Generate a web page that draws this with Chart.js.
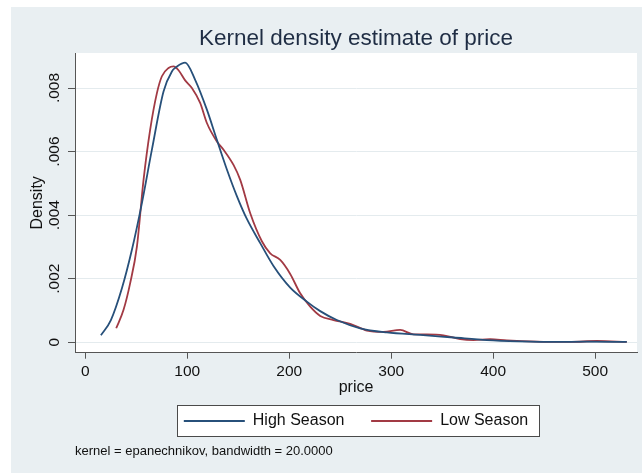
<!DOCTYPE html>
<html>
<head>
<meta charset="utf-8">
<script src="https://cdn.jsdelivr.net/npm/chart.js@4.4.1/dist/chart.umd.min.js"></script>
<style>
  html, body { margin: 0; padding: 0; background: #ffffff; }
  #wrap { position: relative; width: 642px; height: 473px; }
  canvas { display: block; }
</style>
</head>
<body>
<div id="wrap"><canvas id="kde" width="642" height="473"></canvas></div>
<script>
// Kernel density of price, by season
const highPrice = [15.4, 25.2, 36.0, 45.8, 55.6, 65.4, 76.8, 85.0, 90.0, 98.0, 107.8, 119.3, 129.1, 139.0, 148.7, 158.5, 171.6, 184.6, 201.0, 217.3, 230.4, 246.7, 269.6, 295.8, 328.4, 361.1, 393.8, 426.5, 459.0, 491.8, 531.0];
const highDensity = [0.00022, 0.00070, 0.00170, 0.00291, 0.00438, 0.00606, 0.00789, 0.00852, 0.00868, 0.00880, 0.00826, 0.00732, 0.00637, 0.00543, 0.00460, 0.00388, 0.00312, 0.00240, 0.00172, 0.00128, 0.00098, 0.00070, 0.00044, 0.00031, 0.00023, 0.00015, 0.00007, 0.00003, 0.00001, 0.00002, 0.00001];

const lowPrice = [30.4, 37.6, 44.1, 50.7, 57.2, 63.7, 70.3, 75.2, 81.7, 86.6, 91.5, 98.0, 104.6, 112.7, 119.3, 129.1, 135.6, 145.4, 152.0, 161.8, 173.2, 181.4, 191.2, 201.0, 210.8, 220.6, 230.4, 243.4, 259.8, 276.2, 292.5, 308.8, 321.9, 335.0, 351.3, 367.6, 380.7, 397.0, 413.4, 442.8, 475.5, 501.6, 531.0];
const lowDensity = [0.00044, 0.00102, 0.00186, 0.00301, 0.00511, 0.00669, 0.00784, 0.00837, 0.00863, 0.00868, 0.00856, 0.00824, 0.00800, 0.00753, 0.00690, 0.00632, 0.00606, 0.00558, 0.00511, 0.00406, 0.00318, 0.00280, 0.00259, 0.00215, 0.00154, 0.00112, 0.00083, 0.00070, 0.00058, 0.00037, 0.00033, 0.00039, 0.00025, 0.00025, 0.00022, 0.00010, 0.00007, 0.00010, 0.00006, 0.00002, 0.00001, 0.00004, 0.00001];

const seriesNames = ['High Season', 'Low Season'];
const priceTicks = [0, 100, 200, 300, 400, 500];
const densityTicks = [0, 0.002, 0.004, 0.006, 0.008];
const densityTickLabels = ['0', '.002', '.004', '.006', '.008'];

const FONT = "'Liberation Sans', Arial, Helvetica, sans-serif";
const INK = '#111111';
const AXIS = '#555555';
const BLUE = '#27507a';
const RED = '#a23a44';

function toPoints(xs, ys) {
  return xs.map((x, i) => ({ x: x, y: ys[i] }));
}

// Graph region, plot region and legend frame backgrounds
const backdrop = {
  id: 'backdrop',
  beforeDraw(chart) {
    const ctx = chart.ctx;
    const a = chart.chartArea;
    ctx.save();
    ctx.fillStyle = '#ffffff';
    ctx.fillRect(0, 0, chart.width, chart.height);
    ctx.fillStyle = '#e9eff2';
    ctx.fillRect(11, 7, chart.width - 11, chart.height - 7);
    ctx.fillStyle = '#ffffff';
    ctx.fillRect(a.left, a.top, a.right - a.left, a.bottom - a.top);
    const boxes = chart.legend && chart.legend.legendHitBoxes;
    if (boxes && boxes.length) {
      const first = boxes[0];
      const last = boxes[boxes.length - 1];
      const l = Math.round(first.left - 7) + 0.5;
      const r = Math.round(last.left + last.width + 11) + 0.5;
      const t = Math.round(first.top - 8) + 0.5;
      const b = Math.round(first.top + first.height + 7) + 0.5;
      ctx.fillStyle = '#ffffff';
      ctx.fillRect(l, t, r - l, b - t);
      ctx.strokeStyle = '#4a4a4a';
      ctx.lineWidth = 1;
      ctx.strokeRect(l, t, r - l, b - t);
    }
    ctx.restore();
  }
};

new Chart(document.getElementById('kde'), {
  type: 'line',
  data: {
    datasets: [
      {
        label: seriesNames[0],
        data: toPoints(highPrice, highDensity),
        borderColor: BLUE,
        backgroundColor: BLUE,
        borderWidth: 1.8,
        pointRadius: 0,
        pointBorderWidth: 2,
        pointBorderColor: BLUE,
        cubicInterpolationMode: 'monotone',
        fill: false
      },
      {
        label: seriesNames[1],
        data: toPoints(lowPrice, lowDensity),
        borderColor: RED,
        backgroundColor: RED,
        borderWidth: 1.8,
        pointRadius: 0,
        pointBorderWidth: 2,
        pointBorderColor: RED,
        cubicInterpolationMode: 'monotone',
        fill: false
      }
    ]
  },
  options: {
    responsive: false,
    animation: false,
    devicePixelRatio: 1,
    parsing: false,
    layout: { autoPadding: false, padding: { left: 11, right: 5, top: 0, bottom: 0 } },
    scales: {
      x: {
        type: 'linear',
        min: -10,
        max: 541,
        afterBuildTicks: (s) => { s.ticks = priceTicks.map(v => ({ value: v })); },
        afterFit: (s) => { s.height = 33.6; },
        border: { display: true, color: AXIS, width: 1 },
        grid: { drawOnChartArea: false, drawTicks: true, tickLength: 6, tickColor: AXIS, tickWidth: 1 },
        ticks: {
          autoSkip: false, maxRotation: 0, minRotation: 0, padding: 4.2,
          color: INK, font: { family: FONT, size: 15.5 },
          callback: (v) => String(v)
        },
        title: {
          display: true, text: 'price', color: INK,
          font: { family: FONT, size: 16 },
          padding: { top: 0, bottom: -11.1 }
        }
      },
      y: {
        type: 'linear',
        min: -0.000328,
        max: 0.009102,
        afterBuildTicks: (s) => { s.ticks = densityTicks.map(v => ({ value: v })); },
        afterFit: (s) => { s.width = 64; },
        border: { display: true, color: AXIS, width: 1 },
        grid: { color: '#e4ebee', lineWidth: 1, drawTicks: true, tickLength: 7, tickColor: AXIS, tickWidth: 1 },
        ticks: {
          autoSkip: false, minRotation: 90, maxRotation: 90, crossAlign: 'center', padding: -1.6,
          color: INK, font: { family: FONT, size: 15.5 },
          callback: (v, i) => densityTickLabels[i]
        },
        title: {
          display: true, text: 'Density', color: INK,
          font: { family: FONT, size: 16 },
          padding: { top: 17.4, bottom: 0 }
        }
      }
    },
    plugins: {
      title: {
        display: true,
        text: 'Kernel density estimate of price',
        color: '#1f2d44',
        fullSize: false,
        font: { family: FONT, size: 22.5, weight: 'normal' },
        padding: { top: 25.4, bottom: 0.6 }
      },
      legend: {
        display: true,
        position: 'bottom',
        fullSize: false,
        labels: {
          usePointStyle: true,
          pointStyle: 'line',
          pointStyleWidth: 61,
          padding: 26.7,
          color: INK,
          font: { family: FONT, size: 16 }
        }
      },
      subtitle: {
        display: true,
        position: 'bottom',
        align: 'start',
        fullSize: false,
        text: 'kernel = epanechnikov, bandwidth = 20.0000',
        color: INK,
        font: { family: FONT, size: 13, weight: 'normal' },
        padding: { top: 4.2, bottom: 14.2 }
      },
      tooltip: { enabled: false }
    }
  },
  plugins: [backdrop]
});
</script>
</body>
</html>
